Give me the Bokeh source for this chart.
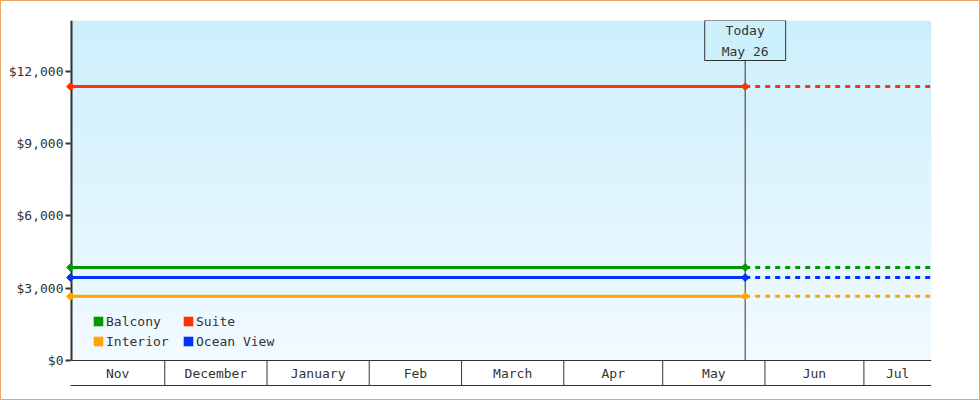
import numpy as np
import pandas as pd
from bokeh.plotting import figure
from bokeh.models import Range1d, FixedTicker, NumeralTickFormatter, Legend, LegendItem, Label
from bokeh.core.properties import value
from bokeh.embed import file_html
from bokeh.resources import INLINE

# ---------------- data ----------------
series_names = ["Balcony", "Suite", "Interior", "Ocean View"]
series_prices = [3860, 11360, 2660, 3440]
series_colors = ["#009900", "#ff3300", "#ffa500", "#0033ff"]

range_start = "2024-11-02 10:00"
today_date = "2025-05-26"
range_end = "2025-07-21 12:00"
month_starts = ["2024-12-01", "2025-01-01", "2025-02-01", "2025-03-01",
                "2025-04-01", "2025-05-01", "2025-06-01", "2025-07-01"]
month_labels = ["Nov", "December", "January", "Feb", "March", "Apr", "May", "Jun", "Jul"]
today_text = "Today\nMay 26"

y_ticks = [0, 3000, 6000, 9000, 12000]
y_max = 14100

# ---------------- helpers ----------------
def ms(s):
    return pd.Timestamp(s).value / 1e6

FONT = "DejaVu Sans Mono"
INK = "#333333"
TOP_COLOR = (204, 239, 252)
BOTTOM_COLOR = (242, 250, 255)

t0, t1, t_today = ms(range_start), ms(range_end), ms(today_date)
bounds = [ms(m) for m in month_starts]
cells = [t0] + bounds + [t1]
mids = [(a + b) / 2 for a, b in zip(cells[:-1], cells[1:])]

PLOT_PX = 340.0       # pixel height of value area
PLOT_W_PX = 861.0     # pixel width of value area
per_px_y = y_max / PLOT_PX
per_px_x = (t1 - t0) / PLOT_W_PX
LEFT_PAD_PX = 5
y_lo = -27 * per_px_y
strip_bottom = -25 * per_px_y
strip_mid = -12.5 * per_px_y

p = figure(width=978, height=398, x_axis_type="datetime",
           x_range=Range1d(t0 - LEFT_PAD_PX * per_px_x, t1),
           y_range=Range1d(y_lo, y_max),
           output_backend="svg", toolbar_location=None,
           min_border_left=64, min_border_right=48, min_border_top=19, min_border_bottom=12,
           background_fill_color="white", border_fill_color="white",
           outline_line_color=None,
           styles={"margin-left": "1px", "margin-top": "1px",
                   "outline-style": "solid", "outline-width": "1px",
                   "outline-color": "#e8a862"})
p.grid.visible = False
p.xaxis.visible = False

ya = p.yaxis[0]
ya.ticker = FixedTicker(ticks=y_ticks)
ya.formatter = NumeralTickFormatter(format="$0,0")
ya.axis_line_color = None
ya.major_tick_in = 5
ya.major_tick_out = 0
ya.major_tick_line_width = 2
ya.major_tick_line_color = INK
ya.minor_tick_line_color = None
ya.major_label_standoff = 2
ya.major_label_text_font = FONT
ya.major_label_text_font_size = "13px"
ya.major_label_text_color = INK

# gradient background
N = 256
frac = np.linspace(0, 1, N)[:, None]
img = np.empty((N, 1), dtype=np.uint32)
view = img.view(dtype=np.uint8).reshape((N, 1, 4))
for k in range(3):
    view[:, :, k] = np.round(BOTTOM_COLOR[k] + (TOP_COLOR[k] - BOTTOM_COLOR[k]) * frac).astype(np.uint8)
view[:, :, 3] = 255
p.image_rgba(image=[img], x=t0, y=0, dw=t1 - t0, dh=y_max)

# month strip
p.segment(x0=bounds, y0=[strip_bottom] * len(bounds), x1=bounds, y1=[0] * len(bounds),
          line_color=INK, line_width=1)
p.segment(x0=[t0, t0], y0=[0, strip_bottom], x1=[t1, t1], y1=[0, strip_bottom],
          line_color=INK, line_width=1)
p.text(x=mids, y=[strip_mid] * len(mids), text=month_labels,
       text_font=value(FONT), text_font_size="13px", text_color=INK,
       text_align="center", text_baseline="middle")

# y axis line
p.segment(x0=[t0 + per_px_x], y0=[0], x1=[t0 + per_px_x], y1=[y_max], line_color=INK, line_width=2)

# today line
p.segment(x0=[t_today], y0=[0], x1=[t_today], y1=[y_max], line_color=INK, line_width=1)

swatches = {}
for name, price, color in zip(series_names, series_prices, series_colors):
    p.line(x=[t0, t_today], y=[price, price], line_color=color, line_width=3)
    p.line(x=[t_today, t1], y=[price, price], line_color=color, line_width=3, line_dash="5 5")
    p.scatter(x=[t0, t_today], y=[price, price], marker="square", angle=np.pi / 4,
              size=5.5, fill_color=color, line_color=color, line_width=1)
    # legend swatch renderer (hidden in the plot, shown only in the legend)
    sw = p.quad(left=[t0], right=[t_today], top=[price], bottom=[price],
                fill_color=color, line_color=None)
    sw.visible = False
    swatches[name] = sw

order = ["Balcony", "Interior", "Suite", "Ocean View"]
legend = Legend(items=[LegendItem(label=n, renderers=[swatches[n]]) for n in order],
                location=(27, 36), orientation="vertical", ncols=2,
                glyph_width=12, glyph_height=12, label_standoff=2,
                label_width=76, label_height=20, spacing=0, padding=0, margin=0,
                border_line_color=None, background_fill_alpha=0,
                inactive_fill_alpha=0, click_policy="none",
                label_text_font=FONT, label_text_font_size="13px", label_text_color=INK)
p.add_layout(legend)

lbl = Label(x=t_today, y=y_max, text=today_text, text_align="center", text_baseline="top",
            text_font=FONT, text_font_size="13px", text_color=INK, text_line_height=1.4,
            border_line_color=INK, border_line_width=1,
            background_fill_color="#%02x%02x%02x" % TOP_COLOR,
            padding=(17, 17, 2, 2), y_offset=0)
p.add_layout(lbl)

open("out.html", "w").write(file_html(p, INLINE))
